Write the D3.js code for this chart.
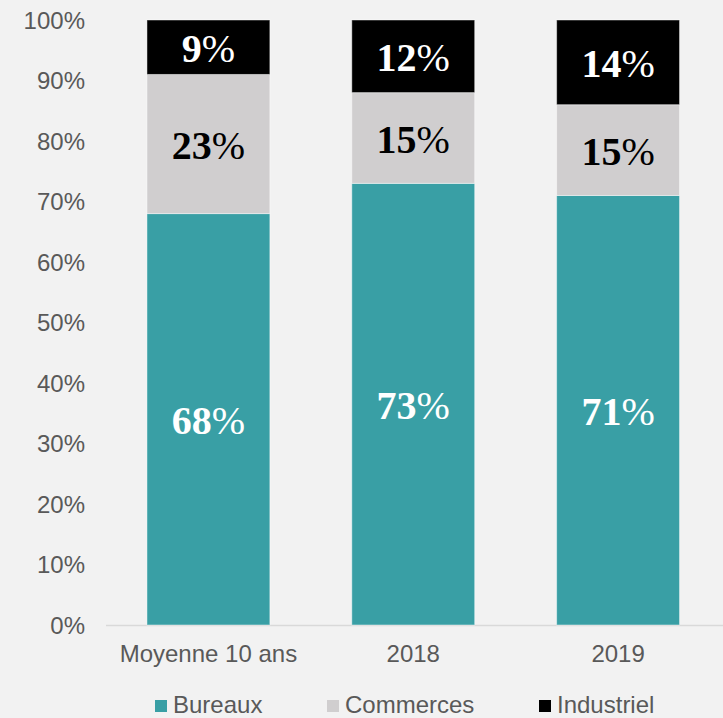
<!DOCTYPE html>
<html>
<head>
<meta charset="utf-8">
<script src="https://cdn.jsdelivr.net/npm/d3@7"></script>
<style>
  html, body { margin: 0; padding: 0; background: #f2f2f2; }
  svg { display: block; }
</style>
</head>
<body>
<svg id="chart" width="723" height="718"></svg>
<script>
// Répartition des investissements par type d'actif
const categories = ["Moyenne 10 ans", "2018", "2019"];
const seriesNames = ["Bureaux", "Commerces", "Industriel"];
const bureaux = [68, 73, 71];
const commerces = [23, 15, 15];
const industriel = [9, 12, 14];
const yTicks = [0, 10, 20, 30, 40, 50, 60, 70, 80, 90, 100];

const colors = { Bureaux: "#399fa5", Commerces: "#d0cecf", Industriel: "#000000" };
const labelColors = { Bureaux: "#ffffff", Commerces: "#000000", Industriel: "#ffffff" };

const svg = d3.select("#chart");
const W = 723, H = 718;
svg.append("rect").attr("width", W).attr("height", H).attr("fill", "#f2f2f2");

const x = d3.scaleBand().domain(categories).range([106, 720.5])
  .paddingInner(0.4).paddingOuter(0.2);
const y = d3.scaleLinear().domain([0, 100]).range([625, 20]);

// table built from the series arrays
const rows = categories.map((c, i) => ({
  cat: c, Bureaux: bureaux[i], Commerces: commerces[i], Industriel: industriel[i]
}));
const stacked = d3.stack().keys(seriesNames)(rows);

// Y axis (labels only)
const yAxis = d3.axisLeft(y).tickValues(yTicks).tickFormat(d => d + "%").tickSize(0).tickPadding(0);
const gy = svg.append("g").attr("transform", "translate(85,0)").call(yAxis);
gy.select(".domain").remove();
gy.selectAll("text")
  .attr("fill", "#595959")
  .attr("font-family", "Liberation Sans, Arial, sans-serif")
  .attr("font-size", 24)
  .attr("dy", "0.35em");

// baseline
svg.append("line")
  .attr("x1", 106).attr("x2", 723)
  .attr("y1", y(0) + 0.5).attr("y2", y(0) + 0.5)
  .attr("stroke", "#d9d9d9").attr("stroke-width", 1.5);

// stacked bars
const layers = svg.append("g").selectAll("g").data(stacked).join("g")
  .attr("fill", d => colors[d.key]);
layers.selectAll("rect").data(d => d).join("rect")
  .attr("x", d => x(d.data.cat))
  .attr("width", x.bandwidth())
  .attr("y", d => y(d[1]))
  .attr("height", d => y(d[0]) - y(d[1]))
  .attr("stroke", "rgba(255,255,255,0.45)")
  .attr("stroke-width", 1);

// value labels: bold digits + light percent sign
const lbl = svg.append("g");
stacked.forEach(layer => {
  layer.forEach(d => {
    const v = d[1] - d[0];
    const cy = (y(d[0]) + y(d[1])) / 2;
    const t = lbl.append("text")
      .attr("x", x(d.data.cat) + x.bandwidth() / 2)
      .attr("y", cy + 15)
      .attr("text-anchor", "middle")
      .attr("font-family", "Liberation Serif, 'Times New Roman', serif")
      .attr("font-size", 40)
      .attr("fill", labelColors[layer.key]);
    t.append("tspan").attr("font-weight", "bold").text(v);
    t.append("tspan").attr("font-weight", "normal").text("%");
  });
});

// X axis labels
const xAxis = d3.axisBottom(x).tickSize(0).tickPadding(0);
const gx = svg.append("g").attr("transform", "translate(0,662)").call(xAxis);
gx.select(".domain").remove();
gx.selectAll("text")
  .attr("fill", "#595959")
  .attr("font-family", "Liberation Sans, Arial, sans-serif")
  .attr("font-size", 24)
  .attr("dy", 0);

// legend
const legendX = [155, 327, 539];
const lg = svg.append("g");
seriesNames.forEach((name, i) => {
  const g = lg.append("g").attr("transform", `translate(${legendX[i]},0)`);
  g.append("rect").attr("x", 0).attr("y", 700).attr("width", 12).attr("height", 12)
    .attr("fill", colors[name]);
  g.append("text").attr("x", 18).attr("y", 713)
    .attr("fill", "#595959")
    .attr("font-family", "Liberation Sans, Arial, sans-serif")
    .attr("font-size", 24)
    .text(name);
});
</script>
</body>
</html>
